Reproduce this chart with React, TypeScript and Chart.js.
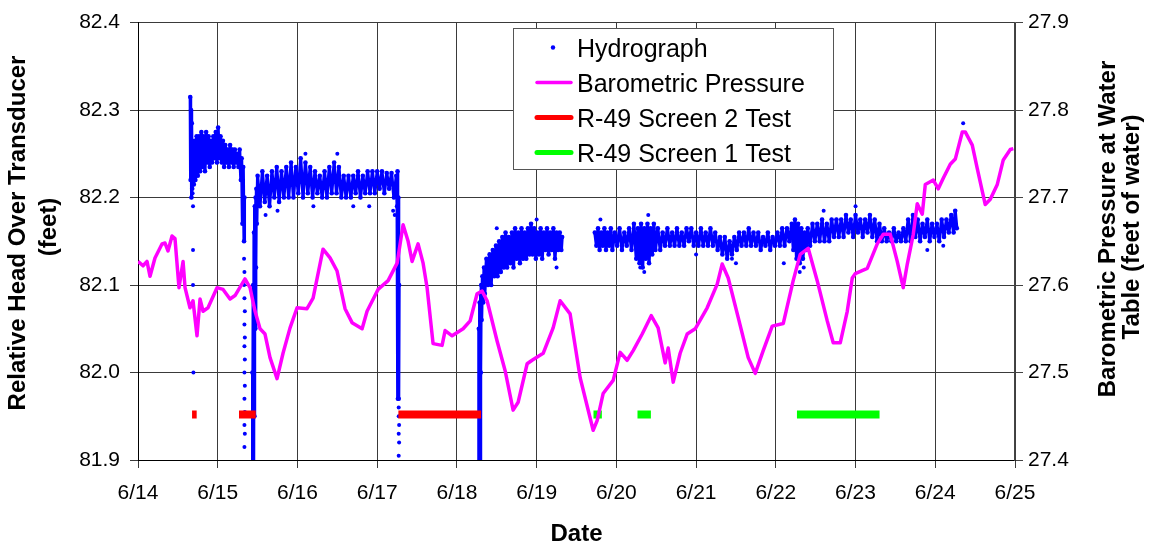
import React, { useEffect, useRef } from 'react';
import { Chart, registerables } from 'chart.js';

Chart.register(...registerables);

const FONT = '"Liberation Sans", Arial, sans-serif';

// ---- X axis: days of June ----
const dayMin = 14;
const dayMax = 25;
const monthPrefix = '6/';

// ---- Axis ranges ----
const headMin = 81.9;
const headMax = 82.4;
const baroMin = 27.4;
const baroMax = 27.9;

// ---- Barometric pressure (feet of water) ----
const baroDays = [
  14.0, 14.063, 14.113, 14.151, 14.213, 14.301, 14.339, 14.376, 14.427, 14.464,
  14.514, 14.565, 14.59, 14.652, 14.69, 14.74, 14.778, 14.816, 14.878, 14.991,
  15.067, 15.154, 15.217, 15.342, 15.405, 15.468, 15.531, 15.593, 15.656, 15.744,
  15.819, 15.907, 15.995, 16.12, 16.196, 16.321, 16.409, 16.497, 16.597, 16.685,
  16.811, 16.873, 17.011, 17.137, 17.25, 17.325, 17.388, 17.438, 17.513, 17.576,
  17.626, 17.701, 17.814, 17.852, 17.94, 18.078, 18.166, 18.253, 18.316, 18.379,
  18.504, 18.605, 18.705, 18.768, 18.881, 18.943, 19.082, 19.207, 19.295, 19.42,
  19.546, 19.709, 19.759, 19.834, 19.96, 20.048, 20.135, 20.211, 20.324, 20.437,
  20.524, 20.612, 20.65, 20.713, 20.8, 20.888, 20.989, 21.139, 21.265, 21.327,
  21.403, 21.528, 21.654, 21.742, 21.842, 21.955, 22.093, 22.218, 22.306, 22.406,
  22.519, 22.645, 22.72, 22.808, 22.896, 22.959, 22.996, 23.147, 23.272, 23.348,
  23.435, 23.523, 23.598, 23.649, 23.724, 23.774, 23.837, 23.875, 23.975, 24.038,
  24.1, 24.188, 24.251, 24.339, 24.376, 24.464, 24.527, 24.59, 24.627, 24.69,
  24.778, 24.853, 24.941, 24.979,
];
const baroValues = [
  27.627, 27.622, 27.627, 27.61, 27.631, 27.647, 27.648, 27.639, 27.656, 27.653,
  27.597, 27.627, 27.597, 27.574, 27.582, 27.542, 27.584, 27.57, 27.574, 27.597,
  27.595, 27.584, 27.588, 27.607, 27.597, 27.57, 27.55, 27.544, 27.517, 27.493,
  27.522, 27.551, 27.574, 27.573, 27.585, 27.641, 27.631, 27.616, 27.573, 27.557,
  27.55, 27.57, 27.595, 27.605, 27.625, 27.669, 27.65, 27.627, 27.647, 27.625,
  27.597, 27.533, 27.531, 27.548, 27.542, 27.55, 27.559, 27.59, 27.593, 27.582,
  27.536, 27.502, 27.457, 27.466, 27.51, 27.514, 27.522, 27.551, 27.582, 27.567,
  27.494, 27.434, 27.445, 27.476, 27.491, 27.523, 27.514, 27.525, 27.544, 27.565,
  27.551, 27.511, 27.528, 27.489, 27.522, 27.544, 27.55, 27.574, 27.601, 27.624,
  27.608, 27.563, 27.517, 27.499, 27.525, 27.553, 27.556, 27.605, 27.635, 27.642,
  27.605, 27.559, 27.534, 27.534, 27.57, 27.608, 27.613, 27.619, 27.647, 27.658,
  27.658, 27.627, 27.597, 27.624, 27.658, 27.693, 27.681, 27.715, 27.72, 27.71,
  27.722, 27.738, 27.744, 27.775, 27.775, 27.76, 27.733, 27.707, 27.692, 27.698,
  27.715, 27.743, 27.755, 27.756,
];

// ---- Hydrograph (relative head, feet): dense logger band, by segment ----
const hydroSegmentA: [number, number][] = [
  [14.655, 82.315], [14.66, 82.22], [14.665, 82.3], [14.67, 82.2], [14.675, 82.285],
  [14.68, 82.21], [14.69, 82.26], [14.7, 82.215], [14.71, 82.265], [14.72, 82.22],
  [14.735, 82.27], [14.75, 82.225], [14.765, 82.27], [14.78, 82.23], [14.795, 82.275],
  [14.81, 82.235], [14.825, 82.27], [14.84, 82.23], [14.855, 82.275], [14.87, 82.24],
  [14.885, 82.27], [14.9, 82.235], [14.915, 82.265], [14.93, 82.24], [14.945, 82.27],
  [14.96, 82.245], [14.975, 82.275], [14.99, 82.24], [15.005, 82.28], [15.02, 82.245],
  [15.035, 82.27], [15.05, 82.24], [15.065, 82.265], [15.08, 82.235], [15.095, 82.26],
  [15.11, 82.24], [15.125, 82.255], [15.14, 82.235], [15.155, 82.26], [15.17, 82.24],
  [15.185, 82.255], [15.2, 82.235], [15.215, 82.255], [15.23, 82.24], [15.245, 82.25],
  [15.26, 82.235], [15.275, 82.255], [15.29, 82.22], [15.3, 82.245], [15.31, 82.17],
  [15.32, 82.235], [15.33, 82.15], [15.335, 82.2],
];
const hydroSegmentB: [number, number][] = [
  [15.43, 81.85], [15.435, 82.0], [15.44, 81.85], [15.445, 82.1], [15.45, 81.85],
  [15.455, 82.16], [15.46, 81.95], [15.465, 82.19], [15.47, 82.05], [15.475, 82.2],
  [15.48, 82.12], [15.485, 82.21], [15.49, 82.17], [15.5, 82.225], [15.53, 82.19],
  [15.56, 82.23], [15.59, 82.195], [15.62, 82.225], [15.65, 82.19], [15.68, 82.23],
  [15.71, 82.2], [15.74, 82.235], [15.77, 82.195], [15.8, 82.23], [15.83, 82.2],
  [15.86, 82.235], [15.89, 82.2], [15.92, 82.24], [15.95, 82.2], [15.98, 82.235],
  [16.01, 82.205], [16.04, 82.245], [16.07, 82.2], [16.1, 82.24], [16.13, 82.205],
  [16.16, 82.235], [16.19, 82.2], [16.22, 82.23], [16.25, 82.205], [16.28, 82.225],
  [16.31, 82.2], [16.34, 82.23], [16.37, 82.2], [16.4, 82.235], [16.43, 82.205],
  [16.46, 82.24], [16.49, 82.205], [16.52, 82.235], [16.55, 82.2], [16.58, 82.225],
  [16.61, 82.2], [16.64, 82.225], [16.67, 82.2], [16.7, 82.225], [16.73, 82.205],
  [16.76, 82.23], [16.79, 82.2], [16.82, 82.225], [16.85, 82.205], [16.88, 82.23],
  [16.91, 82.205], [16.94, 82.23], [16.97, 82.205], [17.0, 82.23], [17.03, 82.21],
  [17.06, 82.23], [17.09, 82.205], [17.12, 82.228], [17.15, 82.21], [17.18, 82.228],
  [17.21, 82.2], [17.24, 82.225], [17.25, 82.19], [17.255, 82.23], [17.26, 81.97],
  [17.265, 82.2], [17.27, 81.97], [17.275, 82.1],
];
const hydroSegmentD: [number, number][] = [
  [18.27, 81.85], [18.275, 82.05], [18.28, 81.85], [18.285, 82.08], [18.29, 81.88],
  [18.295, 82.09], [18.3, 82.0], [18.305, 82.1], [18.31, 82.06], [18.32, 82.11],
  [18.33, 82.08], [18.34, 82.12], [18.35, 82.09], [18.37, 82.13], [18.39, 82.1],
  [18.41, 82.135], [18.43, 82.1], [18.45, 82.14], [18.47, 82.11], [18.49, 82.145],
  [18.51, 82.11], [18.53, 82.15], [18.55, 82.115], [18.57, 82.155], [18.59, 82.12],
  [18.61, 82.16], [18.63, 82.12], [18.65, 82.155], [18.67, 82.125], [18.69, 82.16],
  [18.71, 82.12], [18.73, 82.165], [18.75, 82.13], [18.77, 82.16], [18.79, 82.125],
  [18.81, 82.165], [18.83, 82.13], [18.85, 82.16], [18.87, 82.13], [18.89, 82.165],
  [18.91, 82.135], [18.93, 82.17], [18.95, 82.135], [18.97, 82.165], [18.99, 82.13],
  [19.01, 82.16], [19.03, 82.135], [19.05, 82.165], [19.07, 82.13], [19.09, 82.16],
  [19.11, 82.14], [19.13, 82.165], [19.15, 82.135], [19.17, 82.16], [19.19, 82.14],
  [19.21, 82.165], [19.23, 82.13], [19.25, 82.16], [19.27, 82.14], [19.29, 82.16],
  [19.31, 82.14], [19.32, 82.155],
];
const hydroSegmentE: [number, number][] = [
  [19.73, 82.16], [19.75, 82.145], [19.77, 82.165], [19.79, 82.14], [19.81, 82.16],
  [19.83, 82.145], [19.85, 82.165], [19.87, 82.14], [19.89, 82.16], [19.91, 82.145],
  [19.93, 82.165], [19.95, 82.14], [19.98, 82.16], [20.01, 82.145], [20.04, 82.165],
  [20.07, 82.14], [20.1, 82.16], [20.13, 82.145], [20.16, 82.165], [20.19, 82.14],
  [20.22, 82.17], [20.25, 82.13], [20.27, 82.165], [20.29, 82.125], [20.31, 82.17],
  [20.33, 82.12], [20.35, 82.165], [20.37, 82.13], [20.39, 82.17], [20.41, 82.125],
  [20.43, 82.165], [20.45, 82.135], [20.47, 82.17], [20.49, 82.14], [20.52, 82.165],
  [20.55, 82.14], [20.58, 82.16], [20.61, 82.145], [20.64, 82.165], [20.67, 82.145],
  [20.7, 82.16], [20.73, 82.145], [20.76, 82.165], [20.79, 82.145], [20.82, 82.16],
  [20.85, 82.145], [20.88, 82.165], [20.91, 82.15], [20.94, 82.165], [20.97, 82.145],
  [21.0, 82.16], [21.03, 82.145], [21.06, 82.165], [21.09, 82.145], [21.12, 82.16],
  [21.15, 82.145], [21.18, 82.165], [21.21, 82.145], [21.24, 82.16], [21.27, 82.14],
  [21.3, 82.155], [21.33, 82.135], [21.36, 82.155], [21.39, 82.13], [21.42, 82.15],
  [21.45, 82.135], [21.48, 82.155], [21.51, 82.14], [21.54, 82.16], [21.57, 82.145],
  [21.6, 82.16], [21.63, 82.145], [21.66, 82.165], [21.69, 82.145], [21.72, 82.16],
  [21.75, 82.145], [21.78, 82.16], [21.81, 82.14], [21.84, 82.155], [21.87, 82.145],
  [21.9, 82.16], [21.93, 82.14], [21.96, 82.155], [21.99, 82.145], [22.02, 82.16],
  [22.05, 82.145], [22.08, 82.165], [22.11, 82.145], [22.14, 82.165], [22.17, 82.15],
  [22.2, 82.17], [22.22, 82.14], [22.24, 82.175], [22.26, 82.13], [22.28, 82.17],
  [22.3, 82.125], [22.32, 82.165], [22.34, 82.13], [22.36, 82.16], [22.38, 82.14],
  [22.4, 82.165], [22.43, 82.145], [22.46, 82.17], [22.49, 82.15], [22.52, 82.17],
  [22.55, 82.15], [22.58, 82.175], [22.61, 82.15], [22.64, 82.17], [22.67, 82.15],
  [22.7, 82.175], [22.73, 82.155], [22.76, 82.175], [22.79, 82.155], [22.82, 82.175],
  [22.85, 82.155], [22.88, 82.18], [22.91, 82.16], [22.94, 82.175], [22.97, 82.155],
  [23.0, 82.18], [23.03, 82.16], [23.06, 82.175], [23.09, 82.155], [23.12, 82.175],
  [23.15, 82.16], [23.18, 82.18], [23.21, 82.155], [23.24, 82.175], [23.27, 82.15],
  [23.3, 82.17], [23.33, 82.15], [23.36, 82.165], [23.39, 82.15], [23.42, 82.16],
  [23.45, 82.15], [23.48, 82.165], [23.51, 82.15], [23.54, 82.16], [23.57, 82.15],
  [23.6, 82.165], [23.63, 82.15], [23.66, 82.175], [23.69, 82.15], [23.72, 82.18],
  [23.75, 82.155], [23.78, 82.175], [23.81, 82.15], [23.84, 82.17], [23.87, 82.155],
  [23.9, 82.175], [23.93, 82.15], [23.96, 82.17], [23.99, 82.155], [24.02, 82.17],
  [24.05, 82.15], [24.08, 82.175], [24.11, 82.155], [24.14, 82.175], [24.17, 82.16],
  [24.2, 82.18], [24.23, 82.16], [24.25, 82.185], [24.27, 82.165],
];

// ---- Hydrograph: scattered individual readings (drawdown/recovery and outliers) ----
const hydroDotDays = [
  14.685, 14.69, 14.69, 14.69, 14.695,
  15.33, 15.335, 15.33, 15.335, 15.34, 15.335, 15.34, 15.335, 15.34, 15.335, 15.34,
  15.335, 15.34, 15.335, 15.34, 15.335,
  17.27, 17.27, 17.275, 17.27, 17.275, 17.27,
  15.6, 15.75, 16.1, 16.2, 16.5, 16.7, 16.9, 17.2, 17.22,
  18.5, 19.0, 19.25,
  19.8, 20.3, 20.35, 20.4, 21.0, 21.45, 21.5, 22.1, 22.3, 22.35, 22.6, 23.0, 23.9, 24.1,
  24.35,
];
const hydroDotValues = [
  82.205, 82.19, 82.14, 82.1, 82.0,
  82.13, 82.115, 82.1, 82.085, 82.07, 82.055, 82.04, 82.03, 82.015, 82.0, 81.985,
  81.97, 81.955, 81.94, 81.93, 81.915,
  81.96, 81.95, 81.94, 81.93, 81.92, 81.905,
  82.18, 82.185, 82.25, 82.19, 82.25, 82.19, 82.19, 82.185, 82.18,
  82.165, 82.175, 82.12,
  82.175, 82.12, 82.115, 82.18, 82.135, 82.13, 82.125, 82.125, 82.115, 82.12, 82.185, 82.19, 82.14, 82.145,
  82.285,
];

// ---- Pumping tests (plotted as bars at a fixed head level) ----
const testLevel = 81.952;
const screen2Periods: [number, number][] = [[14.678, 14.736], [15.267, 15.477], [17.266, 18.303]];
const screen1Periods: [number, number][] = [[19.713, 19.818], [20.265, 20.433], [22.265, 23.301]];

// ---- Texts ----
const xTitle = 'Date';
const leftTitle = ['Relative Head Over Transducer', '(feet)'];
const rightTitle = ['Barometric Pressure at Water', 'Table (feet of water)'];
const labels = {
  hydro: 'Hydrograph',
  baro: 'Barometric Pressure',
  s2: 'R-49 Screen 2 Test',
  s1: 'R-49 Screen 1 Test',
};

const BLUE = '#0000FF';
const MAGENTA = '#FF00FF';
const RED = '#FF0000';
const GREEN = '#00FF00';

function segmentsToData(segments: [number, number][][]) {
  const out: { x: number; y: number | null }[] = [];
  segments.forEach((seg, i) => {
    if (i > 0) out.push({ x: seg[0][0], y: null });
    seg.forEach(([x, y]) => out.push({ x, y }));
  });
  return out;
}

function periodsToData(periods: [number, number][]) {
  const out: { x: number; y: number | null }[] = [];
  periods.forEach(([a, b], i) => {
    if (i > 0) out.push({ x: a, y: null });
    out.push({ x: a, y: testLevel });
    out.push({ x: b, y: testLevel });
  });
  return out;
}

const overlayPlugin = {
  id: 'overlayTexts',
  afterDraw(chart: any) {
    const ctx = chart.ctx as CanvasRenderingContext2D;
    ctx.save();
    ctx.fillStyle = '#000';
    ctx.textAlign = 'center';
    ctx.textBaseline = 'middle';
    ctx.font = `bold 24px ${FONT}`;
    const yTitles = [
      { text: leftTitle[0], x: 18, y: 233 },
      { text: leftTitle[1], x: 49, y: 227 },
      { text: rightTitle[0], x: 1108, y: 229 },
      { text: rightTitle[1], x: 1132, y: 227 },
    ];
    for (const t of yTitles) {
      ctx.save();
      ctx.translate(t.x, t.y);
      ctx.rotate(-Math.PI / 2);
      ctx.fillText(t.text, 0, 0);
      ctx.restore();
    }

    // legend box
    const bx = 513.5, by = 28.5, bw = 320, bh = 141;
    ctx.fillStyle = '#fff';
    ctx.fillRect(bx, by, bw, bh);
    ctx.strokeStyle = '#555';
    ctx.lineWidth = 1;
    ctx.strokeRect(bx, by, bw, bh);

    const rows = [
      { label: labels.hydro, kind: 'dot', color: BLUE, w: 0 },
      { label: labels.baro, kind: 'line', color: MAGENTA, w: 3.5 },
      { label: labels.s2, kind: 'line', color: RED, w: 5 },
      { label: labels.s1, kind: 'line', color: GREEN, w: 5 },
    ];
    const rowY0 = 47.5, rowStep = 35;
    ctx.font = `25px ${FONT}`;
    ctx.textAlign = 'left';
    ctx.textBaseline = 'alphabetic';
    rows.forEach((r, i) => {
      const cy = rowY0 + i * rowStep;
      if (r.kind === 'dot') {
        ctx.fillStyle = r.color;
        ctx.beginPath();
        ctx.arc(553, cy, 2.2, 0, Math.PI * 2);
        ctx.fill();
      } else {
        ctx.strokeStyle = r.color;
        ctx.lineWidth = r.w;
        ctx.lineCap = 'round';
        ctx.beginPath();
        ctx.moveTo(537, cy);
        ctx.lineTo(571, cy);
        ctx.stroke();
      }
      ctx.fillStyle = '#000';
      ctx.fillText(r.label, 577, cy + 9);
    });
    ctx.restore();
  },
};

export default function App() {
  const canvasRef = useRef<HTMLCanvasElement | null>(null);

  useEffect(() => {
    if (!canvasRef.current) return;
    const tickFont = { family: FONT, size: 21 };
    const gridColor = '#3a3a3a';

    const chart = new Chart(canvasRef.current, {
      type: 'line',
      data: {
        datasets: [
          {
            label: labels.baro,
            data: baroDays.map((d, i) => ({ x: d, y: baroValues[i] })),
            yAxisID: 'y2',
            borderColor: MAGENTA,
            borderWidth: 3.5,
            borderJoinStyle: 'round',
            pointRadius: 0,
            tension: 0,
          },
          {
            label: labels.s2,
            data: periodsToData(screen2Periods),
            yAxisID: 'y',
            borderColor: RED,
            borderWidth: 8,
            borderCapStyle: 'butt',
            pointRadius: 0,
            spanGaps: false,
          },
          {
            label: labels.s1,
            data: periodsToData(screen1Periods),
            yAxisID: 'y',
            borderColor: GREEN,
            borderWidth: 8,
            borderCapStyle: 'butt',
            pointRadius: 0,
            spanGaps: false,
          },
          {
            label: labels.hydro,
            data: hydroDotDays.map((d, i) => ({ x: d, y: hydroDotValues[i] })),
            yAxisID: 'y',
            showLine: false,
            pointRadius: 2,
            pointBorderWidth: 0,
            pointBackgroundColor: BLUE,
            borderColor: BLUE,
          },
          {
            label: labels.hydro + ' band',
            data: segmentsToData([hydroSegmentA, hydroSegmentB, hydroSegmentD, hydroSegmentE]),
            yAxisID: 'y',
            borderColor: BLUE,
            borderWidth: 3.2,
            borderJoinStyle: 'round',
            pointRadius: 2.3,
            pointBorderWidth: 0,
            pointBackgroundColor: BLUE,
            spanGaps: false,
            tension: 0,
          },
        ],
      },
      options: {
        animation: false,
        responsive: false,
        events: [],
        layout: { padding: { top: 20, left: 0, right: 0, bottom: 0 } },
        plugins: { legend: { display: false }, tooltip: { enabled: false } },
        scales: {
          x: {
            type: 'linear',
            min: dayMin,
            max: dayMax,
            afterFit: (s: any) => { s.height = 88; },
            ticks: {
              stepSize: 1,
              autoSkip: false,
              maxRotation: 0,
              padding: 13,
              color: '#000',
              font: tickFont,
              callback: (v: any) => monthPrefix + Number(v).toFixed(0),
            },
            grid: { color: gridColor, lineWidth: 1, tickLength: 8 },
            border: { color: '#000', width: 1 },
            title: {
              display: true,
              text: xTitle,
              color: '#000',
              font: { family: FONT, size: 24, weight: 'bold', lineHeight: 1.1 },
              padding: { top: 0, bottom: 0 },
            },
          },
          y: {
            type: 'linear',
            position: 'left',
            min: headMin,
            max: headMax,
            afterFit: (s: any) => { s.width = 138; },
            ticks: {
              stepSize: 0.1,
              padding: 10,
              color: '#000',
              font: tickFont,
              callback: (v: any) => Number(v).toFixed(1),
            },
            grid: { color: gridColor, lineWidth: 1, tickLength: 8 },
            border: { color: '#000', width: 1 },
          },
          y2: {
            type: 'linear',
            position: 'right',
            min: baroMin,
            max: baroMax,
            afterFit: (s: any) => { s.width = 134; },
            ticks: {
              stepSize: 0.1,
              padding: 5,
              color: '#000',
              font: tickFont,
              callback: (v: any) => Number(v).toFixed(1),
            },
            grid: { drawOnChartArea: false, color: '#444', lineWidth: 1, tickLength: 8 },
            border: { color: '#444', width: 1.5 },
          },
        },
      },
      plugins: [overlayPlugin],
    } as any);

    return () => chart.destroy();
  }, []);

  return (
    <div style={{ position: 'absolute', left: 0, top: 0, width: 1149, height: 548, background: '#fff' }}>
      <canvas ref={canvasRef} width={1149} height={548} style={{ display: 'block' }} />
    </div>
  );
}
